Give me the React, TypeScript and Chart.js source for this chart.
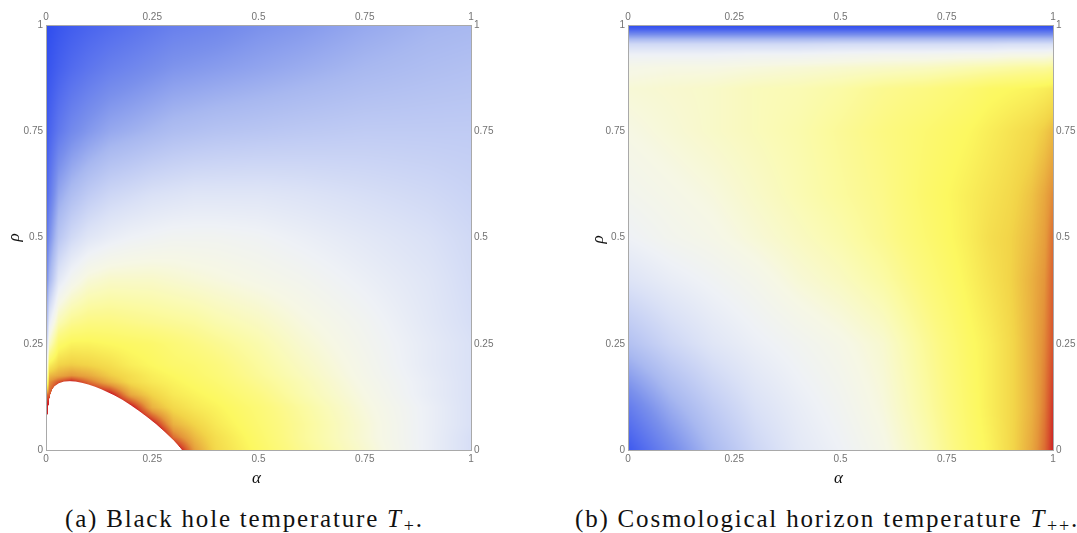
import React, { useEffect, useRef } from 'react';
import { Chart, registerables } from 'chart.js';

Chart.register(...registerables);

// ---------- axis ticks ----------
const TICK_VALUES = [0, 0.25, 0.5, 0.75, 1];
const TICK_LABELS = ['0', '0.25', '0.5', '0.75', '1'];

// ---------- panel (a): black hole temperature T+ (colour-scale value, 0 = blue, 1 = red) ----------
const ALPHA_A = [0, 0.008, 0.03, 0.06, 0.1, 0.15, 0.2, 0.25, 0.3, 0.35, 0.4, 0.5, 0.6, 0.75, 0.9, 1.0];
const RHO_A = [0, 0.03, 0.06, 0.1, 0.13, 0.16, 0.175, 0.2, 0.25, 0.3, 0.4, 0.5, 0.6, 0.75, 0.9, 1.0];
const T_PLUS = [
  [1.0, 1.15, 1.2, 1.2, 1.2, 1.2, 1.2, 1.15, 1.05, 0.91, 0.84, 0.77, 0.7, 0.61, 0.51, 0.44],
  [1.0, 1.15, 1.2, 1.2, 1.2, 1.2, 1.2, 1.12, 0.95, 0.88, 0.83, 0.76, 0.69, 0.6, 0.51, 0.44],
  [1.0, 1.15, 1.2, 1.2, 1.2, 1.18, 1.1, 1.02, 0.89, 0.85, 0.81, 0.75, 0.69, 0.6, 0.51, 0.45],
  [1.0, 1.05, 1.15, 1.2, 1.15, 1.08, 1.02, 0.89, 0.84, 0.81, 0.79, 0.74, 0.68, 0.59, 0.51, 0.45],
  [0.95, 0.96, 1.05, 1.08, 1.05, 1.02, 0.9, 0.85, 0.81, 0.79, 0.77, 0.72, 0.66, 0.58, 0.5, 0.45],
  [0.6, 0.92, 0.97, 1.01, 0.95, 0.89, 0.84, 0.81, 0.79, 0.77, 0.75, 0.7, 0.65, 0.57, 0.5, 0.45],
  [0.5, 0.88, 0.9, 0.92, 0.9, 0.86, 0.83, 0.8, 0.78, 0.76, 0.74, 0.69, 0.64, 0.565, 0.495, 0.45],
  [0.4, 0.8, 0.85, 0.86, 0.85, 0.83, 0.8, 0.78, 0.76, 0.75, 0.73, 0.68, 0.63, 0.56, 0.49, 0.45],
  [0.3, 0.62, 0.76, 0.79, 0.79, 0.78, 0.77, 0.76, 0.74, 0.72, 0.7, 0.66, 0.61, 0.55, 0.49, 0.45],
  [0.25, 0.5, 0.65, 0.7, 0.72, 0.72, 0.71, 0.7, 0.69, 0.68, 0.66, 0.63, 0.59, 0.54, 0.48, 0.44],
  [0.15, 0.3, 0.48, 0.55, 0.6, 0.62, 0.62, 0.62, 0.61, 0.6, 0.59, 0.57, 0.55, 0.51, 0.47, 0.43],
  [0.1, 0.2, 0.35, 0.42, 0.47, 0.5, 0.52, 0.53, 0.54, 0.54, 0.54, 0.53, 0.51, 0.48, 0.45, 0.42],
  [0.06, 0.13, 0.26, 0.32, 0.37, 0.41, 0.43, 0.45, 0.46, 0.47, 0.47, 0.47, 0.46, 0.44, 0.42, 0.4],
  [0.03, 0.07, 0.13, 0.18, 0.22, 0.26, 0.28, 0.3, 0.32, 0.33, 0.34, 0.35, 0.36, 0.37, 0.37, 0.37],
  [0.01, 0.03, 0.06, 0.09, 0.12, 0.15, 0.17, 0.19, 0.21, 0.22, 0.23, 0.25, 0.27, 0.3, 0.32, 0.33],
  [0.0, 0.01, 0.03, 0.05, 0.07, 0.09, 0.11, 0.13, 0.15, 0.16, 0.17, 0.2, 0.22, 0.26, 0.29, 0.3],
];
// edge of the excluded (white) region in panel (a)
const EDGE_ALPHA = [
  0, 0.0008, 0.0016, 0.004, 0.009, 0.015, 0.02, 0.03, 0.042, 0.056, 0.07, 0.085, 0.1, 0.115, 0.13,
  0.145, 0.16, 0.18, 0.2, 0.22, 0.24, 0.26, 0.28, 0.3, 0.31, 0.32,
];
const EDGE_RHO = [
  0, 0.03, 0.05, 0.092, 0.127, 0.143, 0.15, 0.157, 0.161, 0.162, 0.161, 0.158, 0.154, 0.149, 0.143,
  0.136, 0.129, 0.118, 0.105, 0.091, 0.076, 0.06, 0.042, 0.023, 0.012, 0,
];

// ---------- panel (b): cosmological horizon temperature T++ ----------
const ALPHA_B = [0, 0.1, 0.2, 0.3, 0.4, 0.5, 0.6, 0.7, 0.8, 0.85, 0.9, 0.95, 0.98, 1.0];
const RHO_B = [0, 0.1, 0.25, 0.4, 0.5, 0.6, 0.75, 0.85, 0.9, 0.93, 0.955, 0.975, 0.99, 1.0];
const T_PLUSPLUS = [
  [0.04, 0.18, 0.31, 0.41, 0.48, 0.52, 0.57, 0.65, 0.75, 0.79, 0.84, 0.9, 0.95, 1.0],
  [0.14, 0.27, 0.37, 0.45, 0.5, 0.54, 0.59, 0.67, 0.76, 0.8, 0.84, 0.89, 0.94, 0.99],
  [0.33, 0.41, 0.47, 0.51, 0.54, 0.57, 0.61, 0.69, 0.77, 0.8, 0.84, 0.89, 0.93, 0.97],
  [0.46, 0.5, 0.53, 0.56, 0.6, 0.63, 0.67, 0.73, 0.79, 0.82, 0.85, 0.89, 0.92, 0.96],
  [0.52, 0.55, 0.57, 0.6, 0.63, 0.66, 0.7, 0.75, 0.8, 0.83, 0.85, 0.88, 0.91, 0.95],
  [0.55, 0.57, 0.59, 0.62, 0.65, 0.68, 0.71, 0.76, 0.8, 0.82, 0.84, 0.87, 0.9, 0.93],
  [0.58, 0.6, 0.62, 0.64, 0.66, 0.69, 0.72, 0.75, 0.78, 0.8, 0.82, 0.84, 0.86, 0.88],
  [0.6, 0.61, 0.62, 0.64, 0.65, 0.67, 0.7, 0.72, 0.75, 0.77, 0.78, 0.79, 0.8, 0.81],
  [0.57, 0.58, 0.58, 0.59, 0.6, 0.61, 0.62, 0.63, 0.65, 0.66, 0.67, 0.68, 0.68, 0.69],
  [0.52, 0.52, 0.52, 0.53, 0.53, 0.54, 0.55, 0.55, 0.56, 0.56, 0.57, 0.57, 0.57, 0.58],
  [0.42, 0.42, 0.42, 0.42, 0.42, 0.43, 0.43, 0.43, 0.43, 0.43, 0.44, 0.44, 0.44, 0.44],
  [0.22, 0.22, 0.22, 0.22, 0.22, 0.22, 0.22, 0.22, 0.22, 0.22, 0.22, 0.22, 0.22, 0.22],
  [0.06, 0.06, 0.06, 0.06, 0.06, 0.06, 0.06, 0.06, 0.06, 0.06, 0.06, 0.06, 0.06, 0.06],
  [0.0, 0.0, 0.0, 0.0, 0.0, 0.0, 0.0, 0.0, 0.0, 0.0, 0.0, 0.0, 0.0, 0.0],
];

// ---------- colour map (temperature-style) ----------
const CMAP_POS = [0, 0.1, 0.2, 0.3, 0.38, 0.45, 0.52, 0.58, 0.65, 0.72, 0.78, 0.85, 0.92, 0.97, 1.0];
const CMAP_RGB = [
  [45, 75, 238], [85, 110, 238], [122, 144, 236], [168, 184, 240], [195, 206, 244],
  [218, 225, 246], [238, 241, 246], [246, 247, 228], [250, 250, 180], [252, 249, 130],
  [252, 248, 96], [242, 212, 72], [228, 150, 58], [215, 82, 45], [205, 35, 38],
];

type Field = {
  xs: number[];
  ys: number[];
  v: number[][];
  edgeX?: number[];
  edgeY?: number[];
};

function findIdx(arr: number[], val: number): [number, number] {
  const n = arr.length;
  if (val <= arr[0]) return [0, 0];
  if (val >= arr[n - 1]) return [n - 2, 1];
  let i = 0;
  while (i < n - 2 && val > arr[i + 1]) i++;
  return [i, (val - arr[i]) / (arr[i + 1] - arr[i])];
}

function colour(t: number): number[] {
  const tt = Math.max(0, Math.min(1, t));
  const [i, f] = findIdx(CMAP_POS, tt);
  const a = CMAP_RGB[i];
  const b = CMAP_RGB[i + 1];
  return [a[0] + (b[0] - a[0]) * f, a[1] + (b[1] - a[1]) * f, a[2] + (b[2] - a[2]) * f];
}

function edgeAt(field: Field, x: number): number | null {
  if (!field.edgeX || !field.edgeY) return null;
  const ex = field.edgeX;
  if (x < ex[0] || x > ex[ex.length - 1]) return null;
  const [i, f] = findIdx(ex, x);
  return field.edgeY[i] + (field.edgeY[i + 1] - field.edgeY[i]) * f;
}

function densityPlugin(field: Field) {
  return {
    id: 'density',
    beforeDatasetsDraw(chart: any) {
      const { ctx, chartArea: ca, scales } = chart;
      const xs = scales.x;
      const ys = scales.y;
      const L = Math.round(ca.left);
      const T = Math.round(ca.top);
      const W = Math.round(ca.right) - L;
      const H = Math.round(ca.bottom) - T;
      const off = document.createElement('canvas');
      off.width = W;
      off.height = H;
      const octx = off.getContext('2d')!;
      const img = octx.createImageData(W, H);
      const px: number[] = [];
      const py: number[] = [];
      for (let i = 0; i < W; i++) px.push(xs.getValueForPixel(L + i + 0.5));
      for (let j = 0; j < H; j++) py.push(ys.getValueForPixel(T + j + 0.5));
      const dy = Math.abs(ys.getValueForPixel(T) - ys.getValueForPixel(T + 1));
      const colIdx = px.map((x) => findIdx(field.xs, x));
      for (let j = 0; j < H; j++) {
        const [ri, rf] = findIdx(field.ys, py[j]);
        const r0 = field.v[ri];
        const r1 = field.v[ri + 1];
        for (let i = 0; i < W; i++) {
          let cov = 1;
          const e = edgeAt(field, px[i]);
          if (e !== null) cov = Math.max(0, Math.min(1, (py[j] - e) / dy + 0.5));
          if (cov <= 0) continue;
          const [ci, cf] = colIdx[i];
          const a = r0[ci] + (r0[ci + 1] - r0[ci]) * cf;
          const b = r1[ci] + (r1[ci + 1] - r1[ci]) * cf;
          const c = colour(a + (b - a) * rf);
          const k = (j * W + i) * 4;
          img.data[k] = c[0];
          img.data[k + 1] = c[1];
          img.data[k + 2] = c[2];
          img.data[k + 3] = Math.round(cov * 255);
        }
      }
      octx.putImageData(img, 0, 0);
      ctx.drawImage(off, L, T);
    },
  };
}

function makeScale(pos: string, size: number, pad: number) {
  const horizontal = pos === 'top' || pos === 'bottom';
  return {
    type: 'linear',
    position: pos,
    min: 0,
    max: 1,
    afterBuildTicks: (s: any) => {
      s.ticks = TICK_VALUES.map((v) => ({ value: v }));
    },
    afterFit: (s: any) => {
      if (horizontal) s.height = size;
      else s.width = size;
    },
    grid: { display: false, drawTicks: false },
    border: { display: true, color: '#a9a9a9', width: 1, z: 1 },
    ticks: {
      autoSkip: false,
      maxRotation: 0,
      padding: pad,
      color: '#737373',
      font: { family: '"Liberation Sans", Arial, sans-serif', size: 10 },
      callback: (v: any) => {
        const i = TICK_VALUES.indexOf(Number(v));
        return i >= 0 ? TICK_LABELS[i] : '';
      },
    },
  };
}

function makeConfig(field: Field, box: { left: number; right: number; top: number; bottom: number }): any {
  return {
    type: 'scatter',
    data: { datasets: [{ data: [], pointRadius: 0 }] },
    options: {
      animation: false,
      responsive: false,
      maintainAspectRatio: false,
      layout: { padding: 0 },
      plugins: { legend: { display: false }, tooltip: { enabled: false } },
      scales: {
        x: makeScale('bottom', box.bottom, 3),
        x2: makeScale('top', box.top, 2),
        y: makeScale('left', box.left, 3),
        y2: makeScale('right', box.right, 3),
      },
    },
    plugins: [densityPlugin(field)],
  };
}

const FIELD_A: Field = { xs: ALPHA_A, ys: RHO_A, v: T_PLUS, edgeX: EDGE_ALPHA, edgeY: EDGE_RHO };
const FIELD_B: Field = { xs: ALPHA_B, ys: RHO_B, v: T_PLUSPLUS };

const SERIF = "'Liberation Serif', 'Times New Roman', Times, 'DejaVu Serif', serif";

const symStyle: React.CSSProperties = {
  position: 'absolute',
  fontFamily: SERIF,
  fontStyle: 'italic',
  fontSize: 17,
  lineHeight: '17px',
  color: '#111',
};

const capStyle: React.CSSProperties = {
  position: 'absolute',
  top: 506,
  fontFamily: SERIF,
  fontSize: 25,
  lineHeight: '25px',
  letterSpacing: '1.8px',
  whiteSpace: 'nowrap',
  color: '#111',
};

const subStyle: React.CSSProperties = { fontSize: 18, position: 'relative', top: 5, marginLeft: 1 };

export default function App() {
  const refA = useRef<HTMLCanvasElement>(null);
  const refB = useRef<HTMLCanvasElement>(null);
  useEffect(() => {
    const a = new Chart(refA.current!, makeConfig(FIELD_A, { left: 46, right: 66, top: 25, bottom: 20 }));
    const b = new Chart(refB.current!, makeConfig(FIELD_B, { left: 91, right: 24, top: 25, bottom: 20 }));
    return () => {
      a.destroy();
      b.destroy();
    };
  }, []);
  return (
    <div style={{ position: 'absolute', left: 0, top: 0, width: 1077, height: 533, overflow: 'hidden', background: '#fff' }}>
      <canvas ref={refA} width={537} height={470} style={{ position: 'absolute', left: 0, top: 0, width: 537, height: 470 }} />
      <canvas ref={refB} width={540} height={470} style={{ position: 'absolute', left: 537, top: 0, width: 540, height: 470 }} />
      <div style={{ ...symStyle, left: 252, top: 469 }}>α</div>
      <div style={{ ...symStyle, left: 834, top: 469 }}>α</div>
      <div style={{ ...symStyle, left: 9, top: 229, transform: 'rotate(-90deg)' }}>ρ</div>
      <div style={{ ...symStyle, left: 593, top: 231, transform: 'rotate(-90deg)' }}>ρ</div>
      <div style={{ ...capStyle, left: 65 }}>
        (a) Black hole temperature <i>T</i>
        <span style={subStyle}>+</span>.
      </div>
      <div style={{ ...capStyle, left: 575 }}>
        (b) Cosmological horizon temperature <i>T</i>
        <span style={subStyle}>++</span>.
      </div>
    </div>
  );
}
